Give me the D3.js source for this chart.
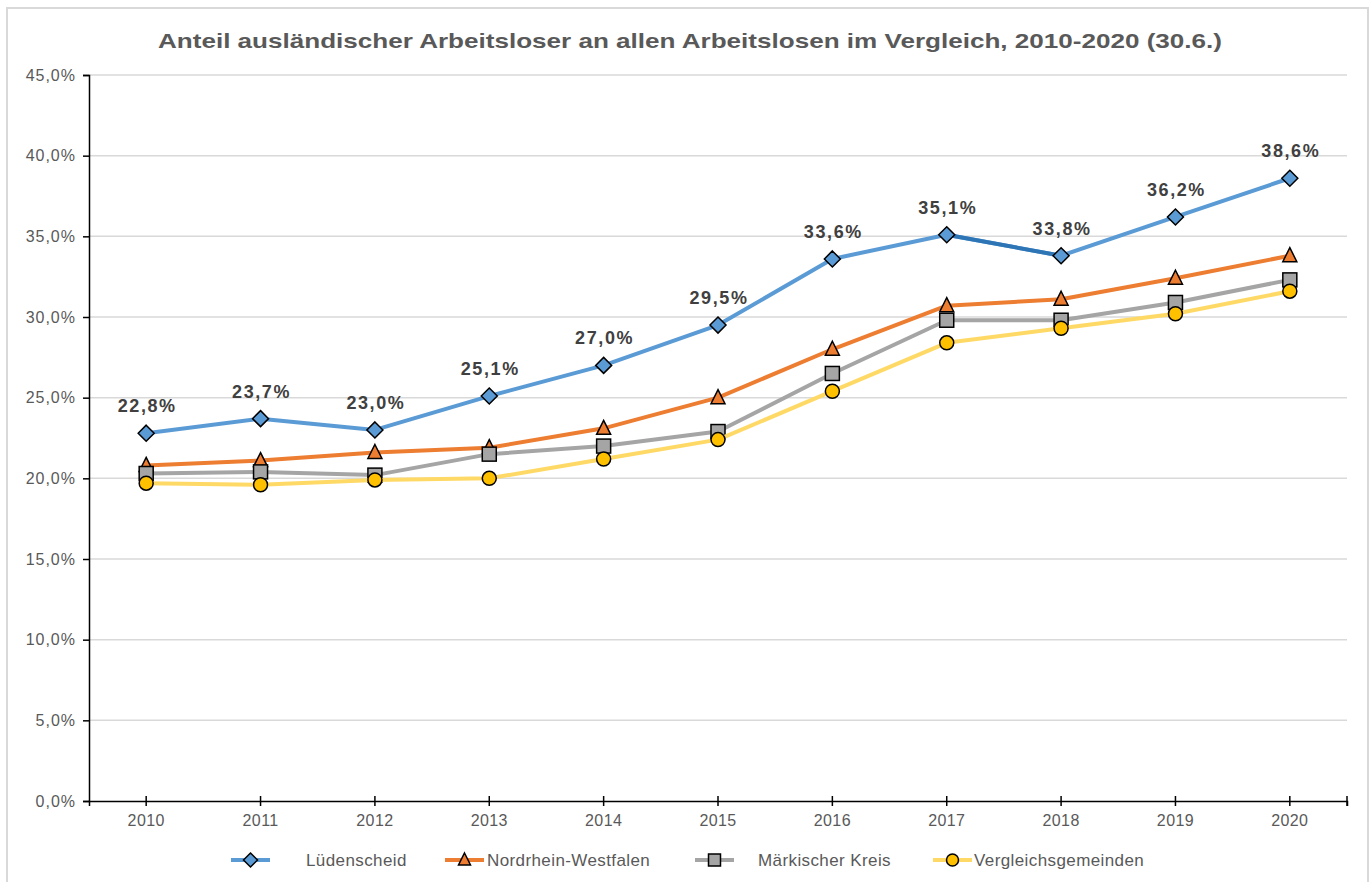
<!DOCTYPE html>
<html><head><meta charset="utf-8">
<script src="https://cdn.jsdelivr.net/npm/d3@7"></script>
<style>body{margin:0;background:#fff;}svg{display:block;font-family:"Liberation Sans",Arial,sans-serif;}</style>
</head><body>
<svg id="c" width="1371" height="882"></svg>
<script>
const years = ["2010","2011","2012","2013","2014","2015","2016","2017","2018","2019","2020"];
const luedenscheid = [22.8, 23.7, 23.0, 25.1, 27.0, 29.5, 33.6, 35.1, 33.8, 36.2, 38.6];
const nrw = [20.8, 21.1, 21.6, 21.9, 23.1, 25.0, 28.0, 30.7, 31.1, 32.4, 33.8];
const maerkischerKreis = [20.3, 20.4, 20.2, 21.5, 22.0, 22.9, 26.5, 29.8, 29.8, 30.9, 32.3];
const vergleichsgemeinden = [19.7, 19.6, 19.9, 20.0, 21.2, 22.4, 25.4, 28.4, 29.3, 30.2, 31.6];
const yTicks = [0, 5, 10, 15, 20, 25, 30, 35, 40, 45];
const title = "Anteil ausländischer Arbeitsloser an allen Arbeitslosen im Vergleich, 2010-2020 (30.6.)";

const series = [
  {name:"Lüdenscheid", values:luedenscheid, line:"#5b9bd5", fill:"#5b9bd5", marker:"diamond"},
  {name:"Nordrhein-Westfalen", values:nrw, line:"#ed7d31", fill:"#ed7d31", marker:"triangle"},
  {name:"Märkischer Kreis", values:maerkischerKreis, line:"#a5a5a5", fill:"#a5a5a5", marker:"square"},
  {name:"Vergleichsgemeinden", values:vergleichsgemeinden, line:"#ffd966", fill:"#ffc000", marker:"circle"}
];

const svg = d3.select("#c");
const fmt = v => v.toFixed(1).replace(".", ",") + "%";

svg.append("rect").attr("x",7).attr("y",8).attr("width",1361).attr("height",900)
  .attr("fill","none").attr("stroke","#d9d9d9").attr("stroke-width",2);

svg.append("text").attr("x",690).attr("y",48).attr("text-anchor","middle")
  .attr("font-size",21).attr("font-weight","bold").attr("fill","#595959")
  .attr("textLength",1064).attr("lengthAdjust","spacingAndGlyphs").text(title);

const x = d3.scaleBand().domain(years).range([89,1347]).padding(0);
const y = d3.scaleLinear().domain([0,45]).range([801,75]);
const cx = d => x(d) + x.bandwidth()/2;

svg.append("g").selectAll("line").data(yTicks.filter(t=>t>0)).join("line")
  .attr("x1",89).attr("x2",1347).attr("y1",d=>y(d)).attr("y2",d=>y(d))
  .attr("stroke","#d9d9d9").attr("stroke-width",1.5);

const yAx = svg.append("g").attr("transform","translate(89,0)")
  .call(d3.axisLeft(y).tickValues(yTicks).tickFormat(fmt).tickSize(6).tickPadding(7));
yAx.select(".domain").attr("stroke","#000").attr("stroke-width",1.5);
yAx.selectAll(".tick line").attr("stroke","#000").attr("stroke-width",1.5);
yAx.selectAll("text").attr("font-size",16).attr("letter-spacing","1px").attr("fill","#595959").attr("font-family","Liberation Sans, Arial, sans-serif");

const xAx = svg.append("g").attr("transform","translate(0,801)")
  .call(d3.axisBottom(x).tickSize(5).tickSizeOuter(5).tickPadding(9));
xAx.select(".domain").attr("stroke","#000").attr("stroke-width",1.5);
xAx.selectAll(".tick line").attr("stroke","#000").attr("stroke-width",1.5).attr("y1",-5);
xAx.selectAll("text").attr("font-size",16).attr("letter-spacing","0.4px").attr("fill","#595959").attr("font-family","Liberation Sans, Arial, sans-serif");
xAx.append("line").attr("x1",1347).attr("x2",1347).attr("y1",-5).attr("y2",5).attr("stroke","#000").attr("stroke-width",1.5);

function marker(g, type, fill, size){
  const s = size;
  if(type==="diamond") g.append("path").attr("d",`M0,${-s}L${s},0L0,${s}L${-s},0Z`);
  else if(type==="triangle") g.append("path").attr("d",`M0,${-s}L${s-1},${s-2}L${-s+1},${s-2}Z`);
  else if(type==="square") g.append("rect").attr("x",-s+1).attr("y",-s+1).attr("width",2*s-2).attr("height",2*s-2);
  else g.append("circle").attr("r",s-1);
  g.selectChildren().attr("fill",fill).attr("stroke","#000").attr("stroke-width",1.5);
}

const line = d3.line().x((d,i)=>cx(years[i])).y(d=>y(d));
series.forEach(s=>{
  svg.append("path").datum(s.values).attr("d",line).attr("fill","none")
    .attr("stroke",s.line).attr("stroke-width",4).attr("stroke-linejoin","round");
  if(s.name==="Lüdenscheid"){
    svg.append("line").attr("x1",cx("2017")).attr("y1",y(s.values[7])).attr("x2",cx("2018")).attr("y2",y(s.values[8]))
      .attr("stroke","#2e75b6").attr("stroke-width",4);
  }
  s.values.forEach((v,i)=>{
    const g = svg.append("g").attr("transform",`translate(${cx(years[i])},${y(v)})`);
    marker(g, s.marker, s.fill, 8);
  });
});

svg.append("g").selectAll("text").data(luedenscheid).join("text")
  .attr("x",(d,i)=>cx(years[i])+1).attr("y",d=>y(d)-21).attr("text-anchor","middle")
  .attr("font-size",18).attr("font-weight","bold").attr("letter-spacing","1.6px").attr("fill","#404040").text(fmt);

const legend = [
  {s:series[0], lx:231, tx:306},
  {s:series[1], lx:445, tx:487},
  {s:series[2], lx:695, tx:758},
  {s:series[3], lx:933, tx:974}
];
legend.forEach(l=>{
  const g = svg.append("g");
  g.append("line").attr("x1",l.lx).attr("x2",l.lx+39).attr("y1",860).attr("y2",860)
    .attr("stroke",l.s.line).attr("stroke-width",4);
  const m = g.append("g").attr("transform",`translate(${l.lx+19.5},860)`);
  marker(m, l.s.marker, l.s.fill, 7);
  g.append("text").attr("x",l.tx).attr("y",866).attr("font-size",17).attr("letter-spacing","0.4px").attr("fill","#595959").text(l.s.name);
});
</script>
</body></html>
